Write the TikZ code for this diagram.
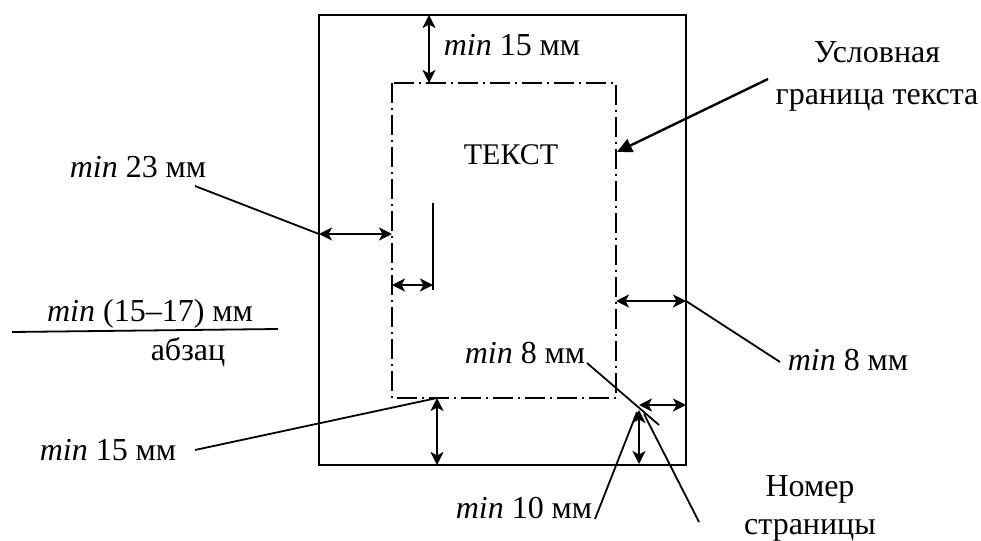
\documentclass[tikz,border=0pt]{standalone}
\usepackage{fontspec}
\setmainfont{Liberation Serif}
\usetikzlibrary{arrows.meta}
\begin{document}
\begin{tikzpicture}[x=1pt,y=-1pt,
  lbl/.style={inner sep=0pt,font=\fontsize{32}{38}\selectfont},
  dim/.style={line width=2.6pt,{Stealth[length=13pt,width=13pt,inset=3.5pt]}-{Stealth[length=13pt,width=13pt,inset=3.5pt]}},
  lead/.style={line width=1.8pt},
  frame/.style={line width=1.8pt},
  dashdot/.style={line width=1.4pt,dash pattern=on 20pt off 5pt on 2pt off 5pt}]
\useasboundingbox (0,0) rectangle (981,540);
% page and text area
\draw[frame] (319,15) rectangle (686,465);
\draw[dashdot] (392,83) rectangle (616,398);
% coordinates
\coordinate (t1) at (429,15); \coordinate (t2) at (429,83);
\coordinate (l1) at (319,234); \coordinate (l2) at (392,234);
\coordinate (i0) at (433,203); \coordinate (i1) at (433,290);
\coordinate (a1) at (392,285); \coordinate (a2) at (433,285);
\coordinate (r1) at (616,301); \coordinate (r2) at (686,301);
\coordinate (b1) at (437,398); \coordinate (b2) at (437,465);
\coordinate (h1) at (639,405); \coordinate (h2) at (686,405);
\coordinate (v1) at (639,410); \coordinate (v2) at (639,464);
\coordinate (u1) at (768,79); \coordinate (u2) at (617,152);
% labels
\node[lbl] (top) at (512,45) {\textit{min} 15 мм};
\node[lbl,font=\fontsize{30}{34}\selectfont] (tx) at (511,155) {ТЕКСТ};
\node[lbl,align=center,font=\fontsize{32}{42}\selectfont] (usl) at (877,76) {Условная\\граница текста};
\node[lbl] (m23) at (138,167) {\textit{min} 23 мм};
\node[lbl] (m1517) at (150,314) {\textit{min} (15–17) мм};
\node[lbl] (abz) at (188,352) {абзац};
\node[lbl] (m8in) at (525,353) {\textit{min} 8 мм};
\node[lbl] (m8r) at (848,360) {\textit{min} 8 мм};
\node[lbl] (m15b) at (108,450) {\textit{min} 15 мм};
\node[lbl] (m10) at (524,508) {\textit{min} 10 мм};
\node[lbl,align=center,font=\fontsize{32}{38}\selectfont] (nom) at (810,508) {Номер\\страницы};
% leader end points
\coordinate (p23) at (195,186);
\coordinate (s1) at (12,332); \coordinate (s2) at (278,329);
\coordinate (p8r) at (780,362);
\coordinate (p15) at (195,450);
\coordinate (p8a) at (587,363); \coordinate (p8b) at (659,425);
\coordinate (p10a) at (595,519); \coordinate (p10b) at (637,412);
\coordinate (pna) at (699,522); \coordinate (pnb) at (644,414);
% dimension arrows
\draw[dim] (t1) -- (t2);
\draw[dim] (l1) -- (l2);
\draw[line width=2pt] (i0) -- (i1);
\draw[dim] (a1) -- (a2);
\draw[dim] (r1) -- (r2);
\draw[dim] (b1) -- (b2);
\draw[dim] (h1) -- (h2);
\draw[dim] (v1) -- (v2);
\draw[line width=2.4pt,-{Triangle[length=15pt,width=14pt]}] (u1) -- (u2);
% leaders
\draw[lead] (p23) -- (l1);
\draw[lead] (s1) -- (s2);
\draw[lead] (r2) -- (p8r);
\draw[lead] (p15) -- (b1);
\draw[lead] (p8a) -- (p8b);
\draw[lead] (p10a) -- (p10b);
\draw[lead] (pna) -- (pnb);
\end{tikzpicture}
\end{document}
